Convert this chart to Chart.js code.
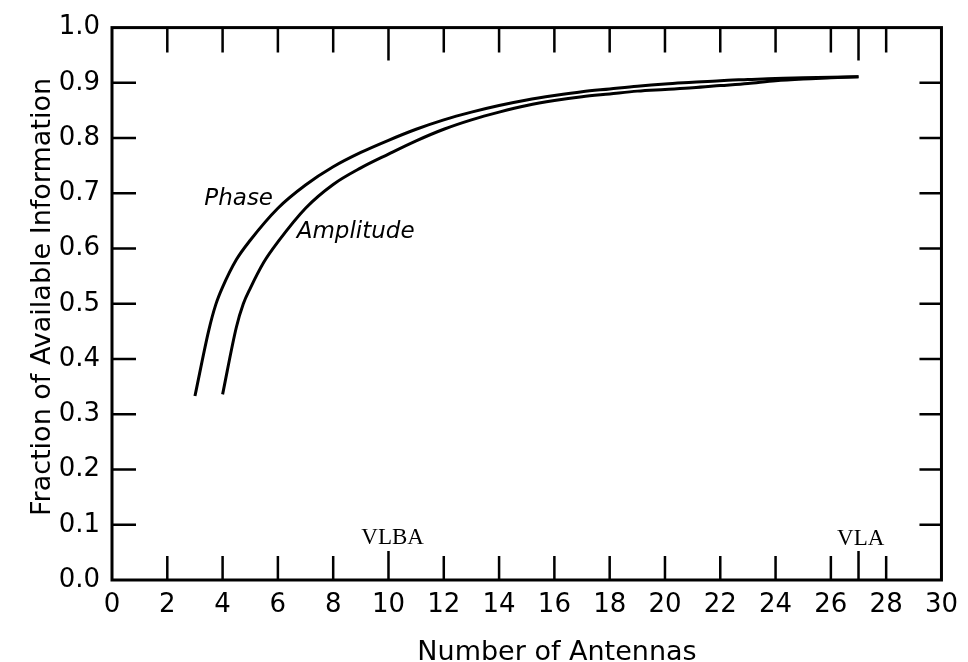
<!DOCTYPE html>
<html>
<head>
<meta charset="utf-8">
<script src="https://cdn.jsdelivr.net/npm/chart.js@4.4.1/dist/chart.umd.min.js"></script>
<style>
  html, body { margin: 0; padding: 0; background: #fff; }
  #wrap { width: 968px; height: 662px; position: relative; }
</style>
</head>
<body>
<div id="wrap"><canvas id="infoChart"></canvas></div>
<script>
// Datos
const phaseAntennas = [3, 3.5, 3.75, 4, 4.5, 5, 6, 7, 8, 9, 10, 11, 12, 13, 14, 15, 16, 17, 18, 19, 20, 21, 22, 23, 24, 25, 26, 27];
const phaseFraction = [0.333, 0.452, 0.498, 0.53, 0.58, 0.615, 0.673, 0.715, 0.748, 0.774, 0.796, 0.816, 0.833, 0.847, 0.859, 0.869, 0.877, 0.884, 0.889, 0.894, 0.898, 0.901, 0.904, 0.906, 0.908, 0.909, 0.91, 0.911];

const ampAntennas = [4, 4.5, 4.75, 5, 5.5, 6, 7, 8, 9, 10, 11, 12, 13, 14, 15, 16, 17, 18, 19, 20, 21, 22, 23, 24, 25, 26, 27];
const ampFraction = [0.336, 0.458, 0.5, 0.528, 0.576, 0.612, 0.673, 0.716, 0.746, 0.771, 0.795, 0.816, 0.833, 0.847, 0.859, 0.868, 0.875, 0.88, 0.885, 0.888, 0.891, 0.895, 0.899, 0.904, 0.907, 0.909, 0.911];

// Marcas interiores del marco
const xMarks = [2, 4, 6, 8, 10, 12, 14, 16, 18, 20, 22, 24, 26, 27, 28];
const xLongMarks = [10, 27];
const yMarks = [0.1, 0.2, 0.3, 0.4, 0.5, 0.6, 0.7, 0.8, 0.9];

// Rótulos dentro del gráfico
const noteText = ['Phase', 'Amplitude', 'VLBA', 'VLA'];
const noteX = [3.34, 6.68, 10.15, 27.08];
const noteY = [0.678, 0.619, 0.066, 0.063];

const toPoints = (xs, ys) => xs.map((v, i) => ({ x: v, y: ys[i] }));

const framePlugin = {
    id: 'frame',
    afterDraw(chart) {
        const { ctx, chartArea: a, scales: { x, y } } = chart;
        ctx.save();
        ctx.strokeStyle = '#000';
        ctx.lineWidth = 3;
        ctx.strokeRect(a.left, a.top, a.right - a.left, a.bottom - a.top);

        ctx.lineWidth = 2.5;
        ctx.beginPath();
        xMarks.forEach(v => {
            const px = x.getPixelForValue(v);
            const isLong = xLongMarks.includes(v);
            ctx.moveTo(px, a.bottom);
            ctx.lineTo(px, a.bottom - (isLong ? 29 : 24));
            ctx.moveTo(px, a.top);
            ctx.lineTo(px, a.top + (isLong ? 33 : 25));
        });
        yMarks.forEach(v => {
            const py = y.getPixelForValue(v);
            ctx.moveTo(a.left, py);
            ctx.lineTo(a.left + 24, py);
            ctx.moveTo(a.right, py);
            ctx.lineTo(a.right - 22, py);
        });
        ctx.stroke();

        // Rótulos de curvas y telescopios
        ctx.fillStyle = '#000';
        ctx.textBaseline = 'alphabetic';
        noteText.forEach((t, i) => {
            const px = x.getPixelForValue(noteX[i]);
            const py = y.getPixelForValue(noteY[i]);
            if (i < 2) {
                ctx.font = 'italic 23px "DejaVu Sans"';
                ctx.textAlign = 'left';
            } else {
                ctx.font = '23px "Liberation Serif"';
                ctx.textAlign = 'center';
            }
            ctx.fillText(t, px, py);
        });

        // Títulos de ejes
        ctx.font = '27px "DejaVu Sans"';
        ctx.textAlign = 'center';
        ctx.fillText('Number of Antennas', 557, 660);
        ctx.translate(50, 297);
        ctx.rotate(-Math.PI / 2);
        ctx.fillText('Fraction of Available Information', 0, 0);
        ctx.restore();
    }
};

const ctxInfo = document.getElementById('infoChart').getContext('2d');
new Chart(ctxInfo, {
    type: 'line',
    data: {
        datasets: [
            {
                label: 'Phase',
                data: toPoints(phaseAntennas, phaseFraction),
                borderColor: '#000',
                borderWidth: 3,
                pointRadius: 0,
                cubicInterpolationMode: 'monotone',
                fill: false
            },
            {
                label: 'Amplitude',
                data: toPoints(ampAntennas, ampFraction),
                borderColor: '#000',
                borderWidth: 3,
                pointRadius: 0,
                cubicInterpolationMode: 'monotone',
                fill: false
            }
        ]
    },
    options: {
        responsive: true,
        maintainAspectRatio: false,
        animation: false,
        layout: { padding: { left: 0, top: 24, right: 20, bottom: 0 } },
        plugins: { legend: { display: false }, tooltip: { enabled: false } },
        scales: {
            x: {
                type: 'linear',
                min: 0,
                max: 30,
                grid: { display: false, drawTicks: false },
                border: { display: false },
                ticks: {
                    stepSize: 2,
                    padding: 10,
                    color: '#000',
                    font: { family: 'DejaVu Sans', size: 26 },
                    maxRotation: 0
                },
                afterFit(scale) { scale.height = 82; }
            },
            y: {
                min: 0,
                max: 1,
                grid: { display: false, drawTicks: false },
                border: { display: false },
                ticks: {
                    stepSize: 0.1,
                    padding: 12,
                    color: '#000',
                    font: { family: 'DejaVu Sans', size: 26 },
                    callback: v => v.toFixed(1)
                },
                afterFit(scale) { scale.width = 112; }
            }
        }
    },
    plugins: [framePlugin]
});
</script>
</body>
</html>
